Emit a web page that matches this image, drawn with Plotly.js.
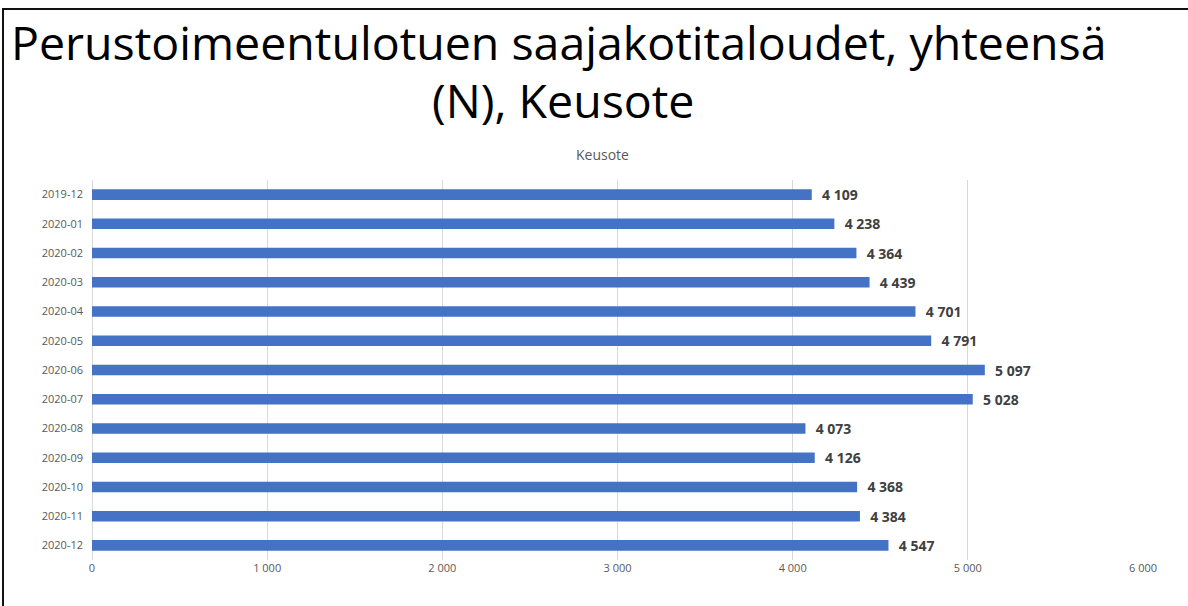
<!DOCTYPE html>
<html><head><meta charset="utf-8">
<script src="https://cdn.plot.ly/plotly-3.0.1.min.js"></script>
<style>
html,body{margin:0;padding:0;background:#fff;}
#chart{position:absolute;left:0;top:0;width:1188px;height:606px;}
#frame{position:absolute;left:2px;top:8px;width:1186px;height:598px;border-top:2px solid #111;border-left:2px solid #111;pointer-events:none;}
</style></head>
<body>
<div id="chart"></div>
<div id="frame"></div>
<script>
const months = ["2019-12","2020-01","2020-02","2020-03","2020-04","2020-05","2020-06","2020-07","2020-08","2020-09","2020-10","2020-11","2020-12"];
const households = [4109,4238,4364,4439,4701,4791,5097,5028,4073,4126,4368,4384,4547];
const titleLine1 = "Perustoimeentulotuen saajakotitaloudet, yhteensä";
const titleLine2 = "(N), Keusote";
const subtitleText = "Keusote";

const FONT = 'Open Sans, Liberation Sans, sans-serif';

const trace = {
  type: 'bar', orientation: 'h',
  x: households, y: months,
  marker: {color: '#4472C4'},
  texttemplate: '\u00a0\u00a0%{x:,d}',
  textposition: 'outside',
  constraintext: 'none',
  textfont: {family: FONT, size: 14, color: '#404040', weight: 'bold'},
  cliponaxis: false,
  hoverinfo: 'x+y'
};

const layout = {
  width: 1188, height: 606,
  separators: ', ',
  paper_bgcolor: '#fff', plot_bgcolor: '#fff',
  margin: {l: 92, r: 45, t: 180, b: 46},
  bargap: 0.64,
  showlegend: false,
  font: {family: FONT, color: '#595959'},
  xaxis: {
    range: [0, 6000], dtick: 1000, tick0: 0,
    tickformat: ',d',
    showgrid: true, gridcolor: '#D9D9D9', gridwidth: 1,
    zeroline: true, zerolinecolor: '#D9D9D9',
    showline: false, ticks: '',
    tickfont: {size: 11, color: '#595959'},
    fixedrange: true
  },
  yaxis: {
    type: 'category', autorange: 'reversed',
    showgrid: false, zeroline: false, showline: false, ticks: '',
    ticklabelstandoff: 8,
    tickfont: {size: 11, color: '#595959'},
    fixedrange: true
  },
  annotations: [
    {text: titleLine1, xref: 'paper', yref: 'paper', x: 0.444, y: 1.362,
     xanchor: 'center', yanchor: 'middle', showarrow: false,
     font: {family: FONT, size: 46.5, color: '#000'}},
    {text: titleLine2, xref: 'paper', yref: 'paper', x: 0.448, y: 1.21,
     xanchor: 'center', yanchor: 'middle', showarrow: false,
     font: {family: FONT, size: 46.5, color: '#000'}},
    {text: subtitleText, xref: 'paper', yref: 'paper', x: 0.486, y: 1.066,
     xanchor: 'center', yanchor: 'middle', showarrow: false,
     font: {family: FONT, size: 14, color: '#595959'}}
  ]
};

Plotly.newPlot('chart', [trace], layout, {displayModeBar: false, staticPlot: true});
</script>
</body></html>
